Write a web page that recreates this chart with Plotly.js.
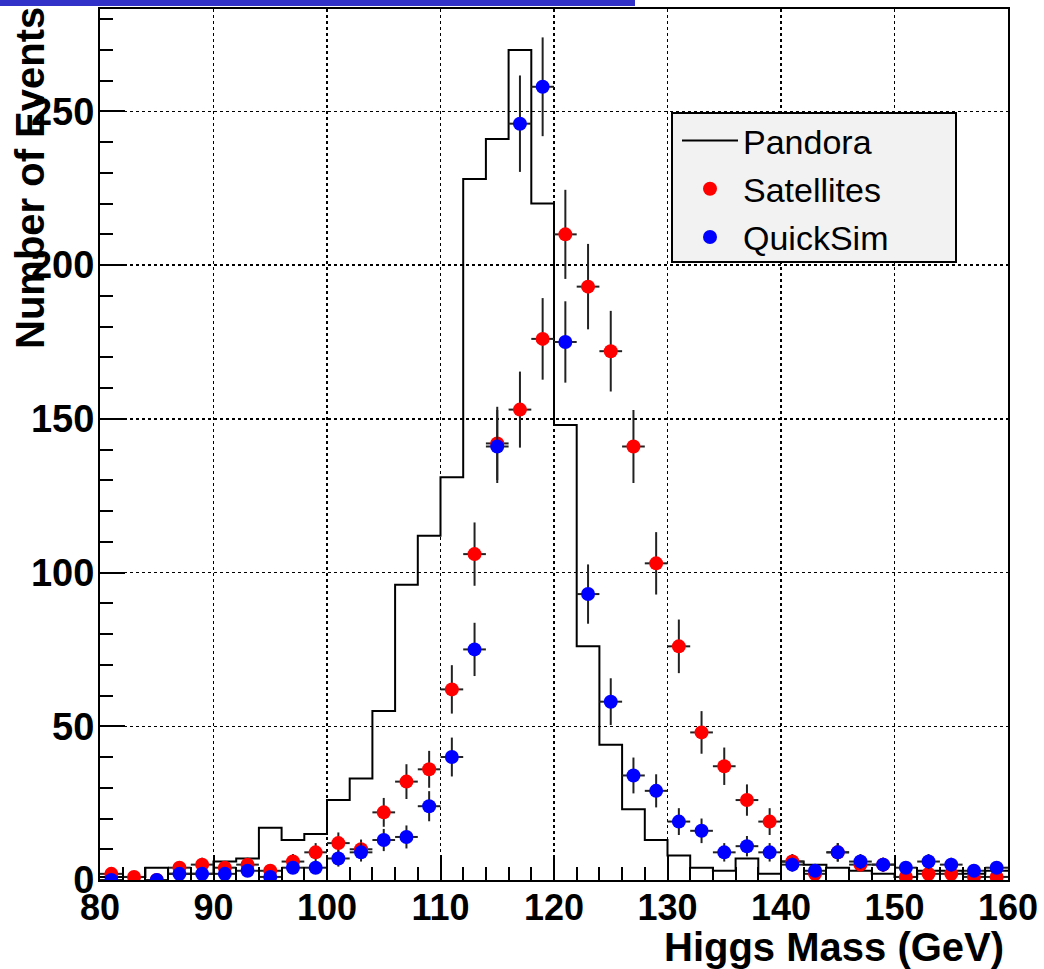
<!DOCTYPE html>
<html>
<head>
<meta charset="utf-8">
<script src="https://cdn.plot.ly/plotly-3.0.1.min.js"></script>
<style>
html, body { margin: 0; padding: 0; background: #ffffff; }
#chart { width: 1044px; height: 969px; }
</style>
</head>
<body>
<div id="chart"></div>
<script>
// Bin centres (GeV), 2 GeV wide bins from 80 to 160
const binCenters = [81, 83, 85, 87, 89, 91, 93, 95, 97, 99,
                    101, 103, 105, 107, 109, 111, 113, 115, 117, 119,
                    121, 123, 125, 127, 129, 131, 133, 135, 137, 139,
                    141, 143, 145, 147, 149, 151, 153, 155, 157, 159];
const binWidth = 2;

// Pandora histogram contents
const pandora = [1, 1, 4, 2, 2, 6, 7, 17, 13, 15,
                 26, 33, 55, 96, 112, 131, 228, 241, 270, 220,
                 148, 76, 44, 23, 13, 8, 4, 3, 7, 2,
                 6, 5, 4, 3, 2, 1, 3, 3, 2, 3];

// Satellites (red points)
const satellites = [2, 1, 0, 4, 5, 4, 5, 3, 6, 9,
                    12, 10, 22, 32, 36, 62, 106, 142, 153, 176,
                    210, 193, 172, 141, 103, 76, 48, 37, 26, 19,
                    6, 2, 9, 5, 5, 1, 2, 2, 1, 1];

// QuickSim (blue points)
const quicksim = [0, null, 0, 2, 2, 2, 3, 1, 4, 4,
                  7, 9, 13, 14, 24, 40, 75, 141, 246, 258,
                  175, 93, 58, 34, 29, 19, 16, 9, 11, 9,
                  5, 3, 9, 6, 5, 4, 6, 5, 3, 4];

const xTicks = [80, 90, 100, 110, 120, 130, 140, 150, 160];
const yTicks = [0, 50, 100, 150, 200, 250];

const seriesNames = ['Pandora', 'Satellites', 'QuickSim'];
const xTitle = 'Higgs Mass (GeV)';
const yTitle = 'Number of Events';

// Step outline from bin edges
const stepX = binCenters.map(c => c - binWidth / 2).concat([binCenters[binCenters.length - 1] + binWidth / 2]);
const stepY = pandora.concat([pandora[pandora.length - 1]]);

const FONT = 'Liberation Sans, Arial, Helvetica, sans-serif';

const errStyle = (t) => Object.assign({ color: '#222222', thickness: 2, width: 0, visible: true }, t);

const traces = [
  {
    type: 'scatter', mode: 'lines', name: seriesNames[0], legendgroup: 'g1',
    x: stepX, y: stepY,
    line: { shape: 'hv', color: '#000000', width: 2 },
    hoverinfo: 'skip'
  },
  {
    type: 'scatter', mode: 'markers', name: seriesNames[1], legendgroup: 'g2',
    x: binCenters, y: satellites,
    marker: { color: '#ff0000', size: 14, line: { width: 0 } },
    error_y: errStyle({ type: 'sqrt' }),
    error_x: errStyle({ type: 'constant', value: binWidth / 2 })
  },
  {
    type: 'scatter', mode: 'markers', name: seriesNames[2], legendgroup: 'g3',
    x: binCenters, y: quicksim,
    marker: { color: '#0000ff', size: 14, line: { width: 0 } },
    error_y: errStyle({ type: 'sqrt' }),
    error_x: errStyle({ type: 'constant', value: binWidth / 2 })
  }
];

const W = 1044, H = 969;
const L = 100, R = 36, T = 9, B = 89;
const pw = W - L - R, ph = H - T - B;
const px2x = (px) => (px - L) / pw;
const py2y = (py) => (H - B - py) / ph;

const layout = {
  width: W, height: H,
  margin: { l: L, r: R, t: T, b: B, pad: 0 },
  paper_bgcolor: '#ffffff',
  plot_bgcolor: '#ffffff',
  font: { family: FONT, color: '#000000' },
  showlegend: true,
  legend: {
    x: px2x(677), y: py2y(112), xanchor: 'left', yanchor: 'top',
    bgcolor: 'rgba(0,0,0,0)', borderwidth: 0,
    font: { family: FONT, size: 34, color: '#000000' },
    itemwidth: 56,
    traceorder: 'grouped',
    tracegroupgap: 1
  },
  xaxis: {
    range: [80, 160],
    tickmode: 'array', tickvals: xTicks, ticktext: xTicks.map(String),
    ticks: 'inside', ticklen: 25, tickwidth: 2, tickcolor: '#000000',
    minor: { dtick: 2, ticks: 'inside', ticklen: 13, tickwidth: 2, tickcolor: '#000000', showgrid: false },
    showline: true, linecolor: '#000000', linewidth: 2, mirror: true,
    showgrid: true, gridcolor: '#000000', gridwidth: 1.5, griddash: 'dot',
    zeroline: false,
    tickfont: { family: FONT, size: 36, weight: 'bold', color: '#000000' },
    ticklabelstandoff: -5,
    fixedrange: true
  },
  yaxis: {
    range: [0, 283.3],
    tickmode: 'array', tickvals: yTicks, ticktext: yTicks.map(String),
    ticks: 'inside', ticklen: 25, tickwidth: 2, tickcolor: '#000000',
    minor: { dtick: 10, ticks: 'inside', ticklen: 13, tickwidth: 2, tickcolor: '#000000', showgrid: false },
    showline: true, linecolor: '#000000', linewidth: 2, mirror: true,
    showgrid: true, gridcolor: '#000000', gridwidth: 1.5, griddash: 'dot',
    zeroline: false,
    tickfont: { family: FONT, size: 38, weight: 'bold', color: '#000000' },
    ticklabelstandoff: -4,
    fixedrange: true
  },
  shapes: [
    { type: 'rect', xref: 'paper', yref: 'paper', layer: 'above',
      x0: px2x(0), x1: px2x(635), y0: py2y(6), y1: py2y(0),
      fillcolor: '#3232c8', line: { width: 0 } },
    { type: 'rect', xref: 'paper', yref: 'paper', layer: 'above',
      x0: px2x(672), x1: px2x(956), y0: py2y(262), y1: py2y(113),
      fillcolor: '#f2f2f2', line: { color: '#000000', width: 2 } }
  ],
  annotations: [
    { text: yTitle, xref: 'paper', yref: 'paper', x: px2x(30), y: py2y(5),
      xanchor: 'center', yanchor: 'top', textangle: -90, showarrow: false,
      font: { family: FONT, size: 40, weight: 'bold', color: '#000000' } },
    { text: xTitle, xref: 'paper', yref: 'paper', x: px2x(1006), y: py2y(947),
      xanchor: 'right', yanchor: 'middle', showarrow: false,
      font: { family: FONT, size: 40, weight: 'bold', color: '#000000' } }
  ]
};

Plotly.newPlot('chart', traces, layout, { displayModeBar: false, staticPlot: true });
</script>
</body>
</html>
